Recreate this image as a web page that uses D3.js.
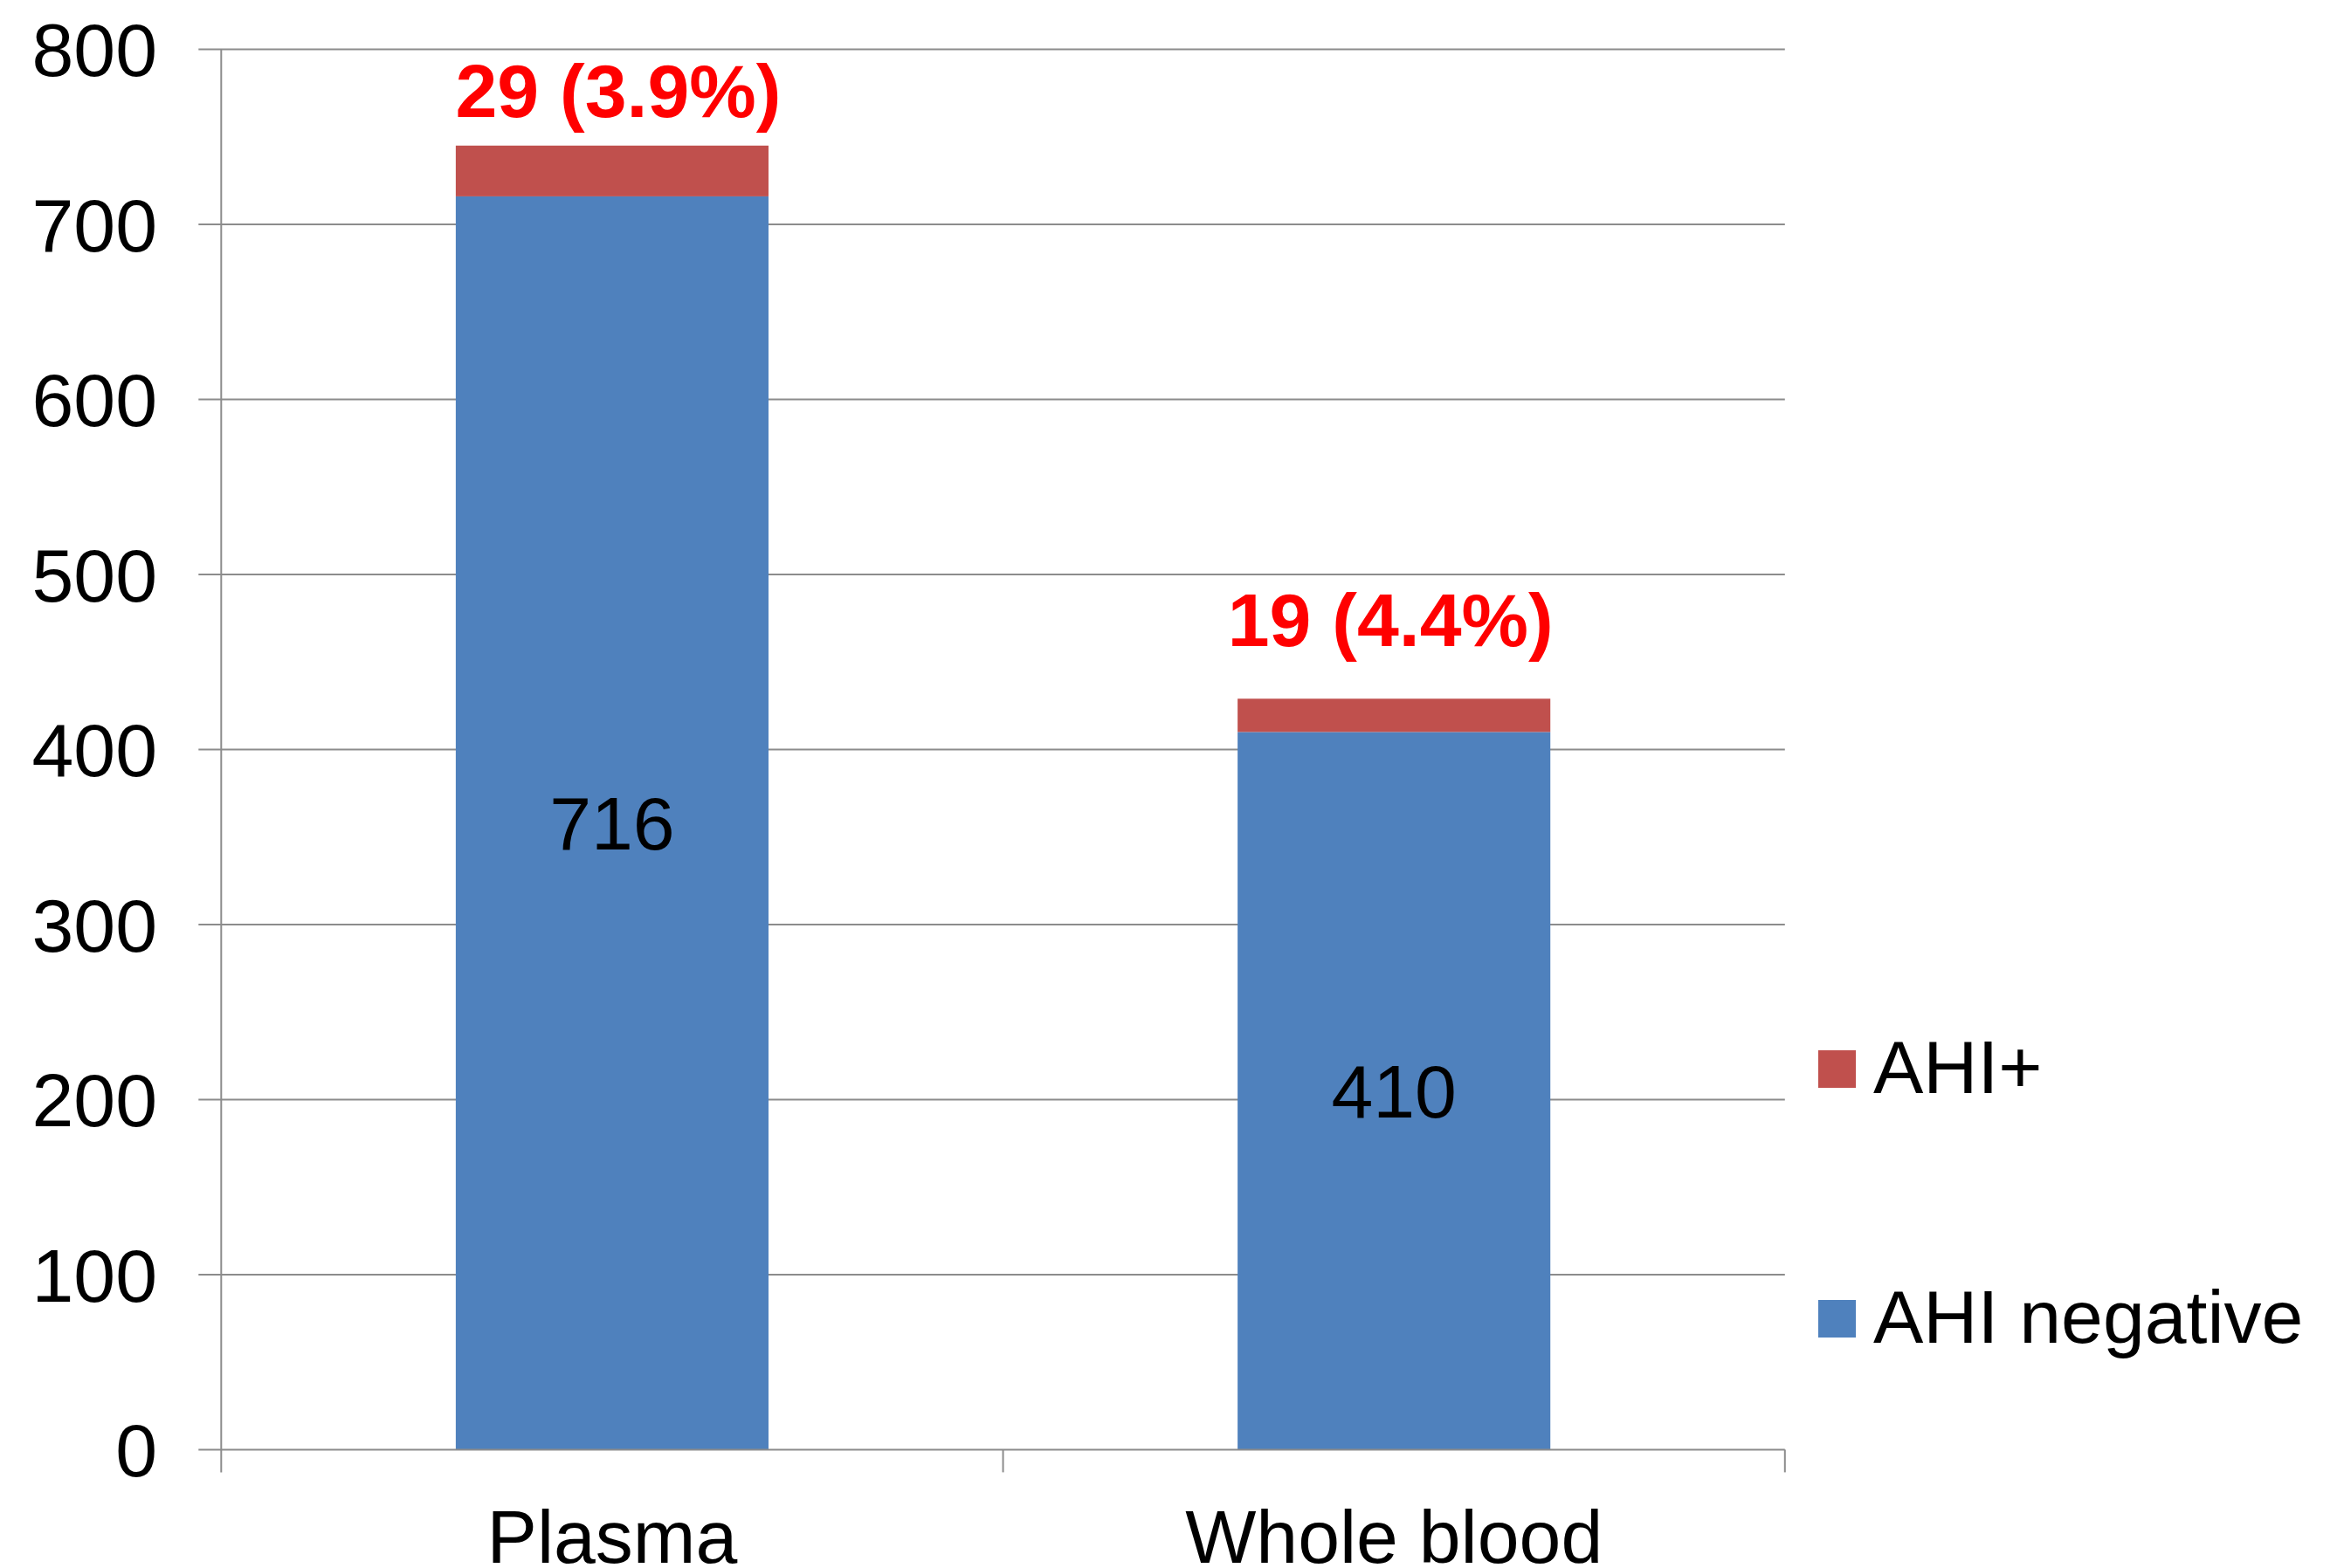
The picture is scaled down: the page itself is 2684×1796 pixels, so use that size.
<!DOCTYPE html>
<html>
<head>
<meta charset="utf-8">
<script src="https://cdn.jsdelivr.net/npm/d3@7"></script>
<style>
  html, body { margin: 0; padding: 0; background: #ffffff; }
  svg { display: block; }
  text { font-family: "Liberation Sans", Arial, sans-serif; }
</style>
</head>
<body>
<script>
// Specimen types on the x axis
const categories = ["Plasma", "Whole blood"];
// Stacked series, bottom to top
const ahiNegative = [716, 410];
const ahiPositive = [29, 19];
// Labels printed above each stack
const positiveLabels = ["29 (3.9%)", "19 (4.4%)"];
// Y axis ticks
const yTicks = [0, 100, 200, 300, 400, 500, 600, 700, 800];
// Legend entries, top to bottom
const legendNames = ["AHI+", "AHI negative"];

(function () {
  const W = 2684, H = 1796;
  const colors = { neg: "#4f81bd", pos: "#c0504d", grid: "#8c8c8c", label: "#ff0000" };
  const FS = 86;

  const svg = d3.select("body").append("svg")
    .attr("width", W).attr("height", H);
  svg.append("rect").attr("width", W).attr("height", H).attr("fill", "#fff");

  const plotL = 253.3, plotR = 2043.8, plotT = 56.5, plotB = 1660.4, tickLen = 26;

  const x = d3.scaleBand().domain(categories).range([plotL, plotR])
    .paddingInner(0.6).paddingOuter(0.3);
  const y = d3.scaleLinear().domain([0, 800]).range([plotB, plotT]);

  // Horizontal gridlines with their left tick marks
  svg.append("g").selectAll("line").data(yTicks.filter(d => d > 0)).join("line")
    .attr("x1", plotL - tickLen).attr("x2", plotR)
    .attr("y1", d => y(d)).attr("y2", d => y(d))
    .attr("stroke", colors.grid).attr("stroke-width", 2);

  // Y tick labels
  svg.append("g").selectAll("text").data(yTicks).join("text")
    .attr("x", 180).attr("y", d => y(d) + FS * 0.358)
    .attr("text-anchor", "end").attr("font-size", FS).attr("fill", "#000")
    .text(d => d);

  // Stacked bars
  const rows = categories.map((c, i) => ({ cat: c, neg: ahiNegative[i], pos: ahiPositive[i] }));
  const stack = d3.stack().keys(["neg", "pos"])(rows);
  const fills = { neg: colors.neg, pos: colors.pos };
  svg.append("g").selectAll("g").data(stack).join("g")
    .attr("fill", s => fills[s.key])
    .selectAll("rect").data(s => s).join("rect")
    .attr("x", d => x(d.data.cat)).attr("width", x.bandwidth())
    .attr("y", d => y(d[1])).attr("height", d => y(d[0]) - y(d[1]));

  // Axis lines and category ticks
  const axis = svg.append("g").attr("stroke", colors.grid).attr("stroke-width", 2);
  axis.append("line").attr("x1", plotL).attr("x2", plotL).attr("y1", plotT).attr("y2", plotB + tickLen);
  axis.append("line").attr("x1", plotL - tickLen).attr("x2", plotR).attr("y1", plotB).attr("y2", plotB);
  const catEdges = [plotL + (plotR - plotL) / 2, plotR];
  axis.selectAll("line.cat").data(catEdges).join("line").attr("class", "cat")
    .attr("x1", d => d).attr("x2", d => d).attr("y1", plotB).attr("y2", plotB + tickLen);

  // Category labels
  svg.append("g").selectAll("text").data(categories).join("text")
    .attr("x", d => x(d) + x.bandwidth() / 2).attr("y", 1790)
    .attr("text-anchor", "middle").attr("font-size", FS).attr("fill", "#000")
    .text(d => d);

  // Values inside the blue segments
  svg.append("g").selectAll("text").data(rows).join("text")
    .attr("x", d => x(d.cat) + x.bandwidth() / 2)
    .attr("y", d => y(d.neg / 2) + FS * 0.358)
    .attr("text-anchor", "middle").attr("font-size", FS).attr("fill", "#000")
    .text(d => d.neg);

  // Red labels above the stacks (hand-placed offsets from the stack top)
  const labelOffset = [{ dx: 7, dy: -33 }, { dx: -4, dy: -60 }];
  svg.append("g").selectAll("text").data(rows).join("text")
    .attr("x", (d, i) => x(d.cat) + x.bandwidth() / 2 + labelOffset[i].dx)
    .attr("y", (d, i) => y(d.neg + d.pos) + labelOffset[i].dy)
    .attr("text-anchor", "middle").attr("font-size", FS).attr("font-weight", "bold")
    .attr("fill", colors.label)
    .text((d, i) => positiveLabels[i]);

  // Legend
  const legendY = [1224.5, 1510.5];
  const legendColors = [colors.pos, colors.neg];
  const lg = svg.append("g").selectAll("g").data(legendNames).join("g")
    .attr("transform", (d, i) => `translate(2082,${legendY[i]})`);
  lg.append("rect").attr("x", 0).attr("y", -21.5).attr("width", 43).attr("height", 43)
    .attr("fill", (d, i) => legendColors[i]);
  lg.append("text").attr("x", 63).attr("y", FS * 0.358 - 3)
    .attr("font-size", FS).attr("fill", "#000").text(d => d);
})();
</script>
</body>
</html>
